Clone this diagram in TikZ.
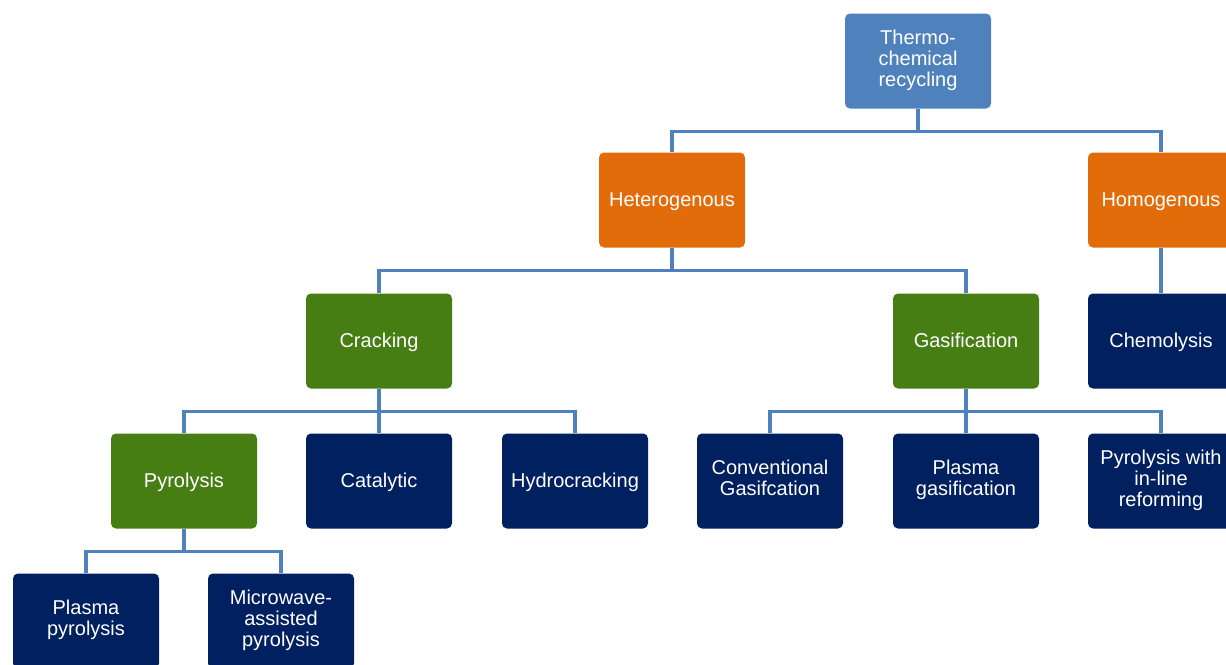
\documentclass[tikz,border=0pt]{standalone}
\usepackage{fontspec}
\setmainfont{Liberation Sans}
\definecolor{rootblue}{RGB}{79,129,189}
\definecolor{linkblue}{RGB}{79,129,189}
\definecolor{catorange}{RGB}{227,108,10}
\definecolor{catgreen}{RGB}{70,126,20}
\definecolor{leafnavy}{RGB}{0,32,96}
\begin{document}
\begin{tikzpicture}[x = 1pt, y = -1pt,
        box/.style = {rounded corners = 5pt, minimum width = 146pt, minimum height = 95pt,
            inner sep = 2pt, align = center, text = white,
            font = \fontsize{20}{21}\selectfont,
            execute at begin node = \rule{0pt}{18.5pt}, execute at end node = \strut},
        link/.style = {draw = linkblue, line width = 3.5pt}]

        \useasboundingbox (0, 0) rectangle (1226, 664);
        \clip (0, 0) rectangle (1226, 664);

        \node (thermo) at (918, 61) [box, fill = rootblue] {Thermo-\\chemical\\recycling};

        \node (het) at (672, 200) [box, fill = catorange] {Heterogenous};
        \node (hom) at (1161, 200) [box, fill = catorange] {Homogenous};

        \node (crack) at (379, 341) [box, fill = catgreen] {Cracking};
        \node (gasif) at (966, 341) [box, fill = catgreen] {Gasification};
        \node (chemo) at (1161, 341) [box, fill = leafnavy] {Chemolysis};

        \node (pyro) at (184, 481) [box, fill = catgreen] {Pyrolysis};
        \node (cat) at (379, 481) [box, fill = leafnavy] {Catalytic};
        \node (hydro) at (575, 481) [box, fill = leafnavy] {Hydrocracking};
        \node (conv) at (770, 481) [box, fill = leafnavy] {Conventional\\Gasifcation};
        \node (plgas) at (966, 481) [box, fill = leafnavy] {Plasma\\gasification};
        \node (inline) at (1161, 481) [box, fill = leafnavy] {Pyrolysis with\\in-line\\reforming};

        \node (plpyro) at (86, 621) [box, fill = leafnavy] {Plasma\\pyrolysis};
        \node (micro) at (281, 621) [box, fill = leafnavy] {Microwave-\\assisted\\pyrolysis};

        \draw [link] (thermo.south) -- ++(0, 23) -| (het.north);
        \draw [link] (thermo.south) -- ++(0, 23) -| (hom.north);

        \draw [link] (het.south) -- ++(0, 23) -| (crack.north);
        \draw [link] (het.south) -- ++(0, 23) -| (gasif.north);
        \draw [link] (hom.south) -- (chemo.north);

        \draw [link] (crack.south) -- ++(0, 23) -| (pyro.north);
        \draw [link] (crack.south) -- (cat.north);
        \draw [link] (crack.south) -- ++(0, 23) -| (hydro.north);

        \draw [link] (gasif.south) -- ++(0, 23) -| (conv.north);
        \draw [link] (gasif.south) -- (plgas.north);
        \draw [link] (gasif.south) -- ++(0, 23) -| (inline.north);

        \draw [link] (pyro.south) -- ++(0, 23) -| (plpyro.north);
        \draw [link] (pyro.south) -- ++(0, 23) -| (micro.north);

    \end{tikzpicture}
\end{document}
